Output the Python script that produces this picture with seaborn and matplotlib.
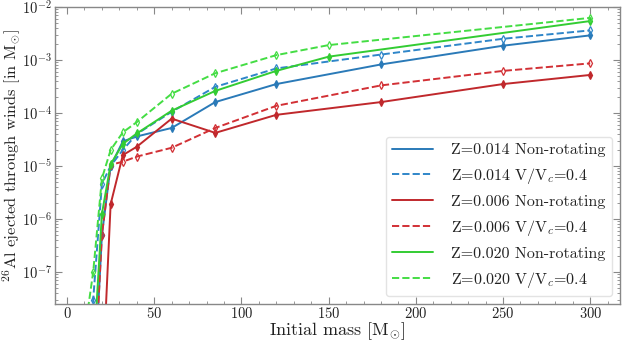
import numpy as np
import pandas as pd
import matplotlib
matplotlib.use("Agg")
import matplotlib.pyplot as plt
import seaborn as sns

# ---- data ----
m_014_nr = [15, 20, 25, 32, 40, 60, 85, 120, 180, 250, 300]
y_014_nr = [3e-10, 5e-7, 1.0e-5, 2.9e-5, 3.6e-5, 5.2e-5, 1.6e-4, 3.5e-4, 8.2e-4, 1.85e-3, 2.9e-3]

m_014_r = [12, 15, 20, 25, 32, 40, 60, 85, 120, 180, 250, 300]
y_014_r = [1e-10, 3e-8, 4.6e-6, 1.0e-5, 2.0e-5, 4.0e-5, 1.05e-4, 3.1e-4, 6.9e-4, 1.26e-3, 2.5e-3, 3.6e-3]

m_006_nr = [20, 25, 32, 40, 60, 85, 120, 180, 250, 300]
y_006_nr = [5e-10, 1.9e-6, 1.6e-5, 2.3e-5, 7.8e-5, 4.2e-5, 9.2e-5, 1.6e-4, 3.5e-4, 5.2e-4]

m_006_r = [15, 20, 25, 32, 40, 60, 85, 120, 180, 250, 300]
y_006_r = [3e-10, 5e-7, 1.05e-5, 1.2e-5, 1.5e-5, 2.2e-5, 5.2e-5, 1.36e-4, 3.3e-4, 6.2e-4, 8.6e-4]

m_020_nr = [15, 20, 25, 32, 40, 60, 85, 120, 150, 300]
y_020_nr = [2e-9, 1.25e-6, 1.07e-5, 2.6e-5, 4.1e-5, 1.1e-4, 2.6e-4, 6.2e-4, 1.15e-3, 5.4e-3]

m_020_r = [12, 15, 20, 25, 32, 40, 60, 85, 120, 150, 300]
y_020_r = [2e-8, 1e-7, 5.8e-6, 2.0e-5, 4.3e-5, 6.7e-5, 2.3e-4, 5.6e-4, 1.23e-3, 1.9e-3, 6.2e-3]

labels = ["Z=0.014 Non-rotating", r"Z=0.014 V/V$_c$=0.4",
          "Z=0.006 Non-rotating", r"Z=0.006 V/V$_c$=0.4",
          "Z=0.020 Non-rotating", r"Z=0.020 V/V$_c$=0.4"]

sns.set_style("ticks")
plt.rcParams.update({
    "font.family": ["cmr10", "DejaVu Serif"],
    "mathtext.fontset": "cm",
    "axes.unicode_minus": False,
    "axes.formatter.use_mathtext": True,
})

fig = plt.figure(figsize=(6.23, 3.43), dpi=100)
ax = fig.add_axes([0.088, 0.114, 0.907, 0.866])

series = [
    (m_014_nr, y_014_nr, "#2a7ab8", "-", labels[0]),
    (m_014_r, y_014_r, "#2f86c9", "--", labels[1]),
    (m_006_nr, y_006_nr, "#c0282c", "-", labels[2]),
    (m_006_r, y_006_r, "#d23035", "--", labels[3]),
    (m_020_nr, y_020_nr, "#33cc33", "-", labels[4]),
    (m_020_r, y_020_r, "#44dd44", "--", labels[5]),
]

for xs, ys, c, ls, lab in series:
    df = pd.DataFrame({"mass": xs, "al": ys})
    mfc = c if ls == "-" else "none"
    sns.lineplot(data=df, x="mass", y="al", ax=ax, color=c, linestyle=ls,
                 linewidth=1.4, marker="d", markersize=4, markerfacecolor=mfc,
                 markeredgecolor=c, markeredgewidth=0.9, label=lab)

ax.set_yscale("log")
ax.set_xlim(-7, 317)
ax.set_ylim(2.5e-8, 1e-2)

ax.set_xticks([0, 50, 100, 150, 200, 250, 300])
ax.xaxis.set_minor_locator(matplotlib.ticker.MultipleLocator(10))
ax.yaxis.set_major_locator(matplotlib.ticker.LogLocator(base=10, numticks=20))
ax.yaxis.set_minor_locator(matplotlib.ticker.LogLocator(base=10, subs=np.arange(2, 10), numticks=20))
ax.yaxis.set_minor_formatter(matplotlib.ticker.NullFormatter())

gray = "#888888"
for sp in ax.spines.values():
    sp.set_color(gray)
    sp.set_linewidth(1.0)
ax.tick_params(which="both", direction="in", top=True, right=True, colors=gray,
               labelcolor="#222222", labelsize=10.5, pad=2)
ax.tick_params(axis="x", pad=1.5)
ax.tick_params(which="major", length=5)
ax.tick_params(which="minor", length=2.5)

ax.set_xlabel(r"Initial mass [M$_{\odot}$]", fontsize=13, color="#222222", va="bottom")
ax.xaxis.set_label_coords(0.5, -0.128)
ax.set_ylabel(r"$^{26}$Al ejected through winds [in M$_{\odot}$]", fontsize=11.8, color="#222222")
ax.yaxis.set_label_coords(-0.057, 0.5)

leg = ax.legend(loc="lower right", fontsize=11.5, frameon=True, handlelength=2.6,
                borderaxespad=0.5, labelspacing=0.55, handletextpad=1.1)
leg.get_frame().set_edgecolor("#dddddd")
for h in leg.legend_handles:
    h.set_marker("")
for t in leg.get_texts():
    t.set_color("#222222")

fig.savefig("out.png", dpi=100)
